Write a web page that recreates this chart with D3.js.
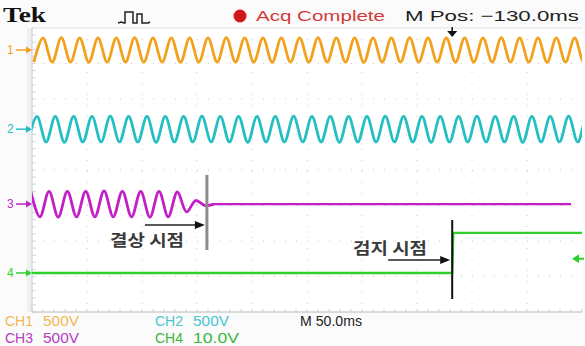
<!DOCTYPE html>
<html><head><meta charset="utf-8">
<script src="https://cdn.jsdelivr.net/npm/d3@7"></script>
<style>body{margin:0;background:#fff}svg{display:block}</style>
</head><body><svg id="c" width="585" height="346"></svg>
<script>
// ---- data ----
const timeDomain = [0, 500];          // ms (50 ms/div x 10)
const divDomain = [-4, 4];            // vertical divisions
const halfPeriod = 8.333;             // ms (60 Hz)
const ch1Start = 1.67, ch2Start = -3.83, ch3Start = -1.17; // time of first extremum (ms)
const ch1Offset = 3.38, ch2Offset = 1.15, ch3Offset = -0.96; // div
const ch1Ext = [-0.34,0.34,-0.34,0.35,-0.34,0.34,-0.35,0.34,-0.34,0.34,-0.34,0.35,-0.34,0.34,-0.34,0.34,-0.35,0.34,-0.34,0.34,-0.34,0.35,-0.34,0.34,-0.34,0.34,-0.35,0.34,-0.34,0.34,-0.34,0.35,-0.34,0.34,-0.34,0.34,-0.35,0.34,-0.34,0.34,-0.34,0.35,-0.34,0.34,-0.34,0.34,-0.35,0.34,-0.34,0.34,-0.34,0.35,-0.34,0.34,-0.34,0.34,-0.35,0.34,-0.34,0.34,-0.34,0.34];
const ch2Ext = [-0.36,0.36,-0.36,0.36,-0.37,0.36,-0.36,0.36,-0.36,0.37,-0.36,0.36,-0.36,0.36,-0.37,0.36,-0.36,0.36,-0.36,0.37,-0.36,0.36,-0.36,0.36,-0.37,0.36,-0.36,0.36,-0.36,0.37,-0.36,0.36,-0.36,0.36,-0.37,0.36,-0.36,0.36,-0.36,0.37,-0.36,0.36,-0.36,0.36,-0.37,0.36,-0.36,0.36,-0.36,0.37,-0.36,0.36,-0.36,0.36,-0.37,0.36,-0.36,0.36,-0.36,0.37,-0.36,0.36,-0.36];
const ch3Ext = [0.36,-0.36,0.36,-0.37,0.36,-0.36,0.36,-0.36,0.37,-0.36,0.36,-0.36,0.36,-0.37,0.36,-0.36,0.34,-0.22,0.1,-0.04,0];
const ch3Flat = [[175, 0], [500, 0]];
const ch4Levels = [-2.9, -1.77];      // div, before / after step
const stepTime = 382;                 // ms, 검지 시점
const openPhaseTime = 159;            // ms, 결상 시점
const labels = {
  title: "Tek", acq: "Acq Complete", mpos: "M Pos: \u2212130.0ms",
  openPhase: "결상 시점", detect: "검지 시점", timebase: "M 50.0ms"
};
const chNames = ["CH1", "CH2", "CH3", "CH4"];
const chScales = ["500V", "500V", "500V", "10.0V"];
const chColors = ["#f3a11c", "#24bfc2", "#c21fc6", "#2fcf2f"];
const chTextColors = ["#f0b850", "#48c6d0", "#b43cc0", "#3eb43e"];

// ---- layout ----
const svg = d3.select("#c");
const L = 32, R = 582, T = 28, B = 312;
const x = d3.scaleLinear().domain(timeDomain).range([L, R]);
const y = d3.scaleLinear().domain(divDomain).range([B, T]);

svg.append("rect").attr("width", 585).attr("height", 346).attr("fill", "#fbfbfb");
svg.append("rect").attr("x", L).attr("y", T).attr("width", R - L).attr("height", B - T).attr("fill", "#fff");
svg.append("rect").attr("x", 27).attr("y", T).attr("width", 5).attr("height", B - T).attr("fill", "#eef0f2");

// graticule
const g = svg.append("g");
g.selectAll(".vg").data(d3.range(50, 500, 50)).join("line")
  .attr("x1", d => x(d)).attr("x2", d => x(d)).attr("y1", T).attr("y2", B)
  .attr("stroke", "#c9c9c9").attr("stroke-width", 1).attr("stroke-dasharray", "1,10");
g.selectAll(".hg").data(d3.range(-3, 4, 1)).join("line")
  .attr("x1", L).attr("x2", R).attr("y1", d => y(d)).attr("y2", d => y(d))
  .attr("stroke", "#c9c9c9").attr("stroke-width", 1).attr("stroke-dasharray", "1,10");
g.selectAll(".lt").data(d3.range(-4, 4.01, 0.2)).join("line")
  .attr("x1", L).attr("x2", L + 4).attr("y1", d => y(d)).attr("y2", d => y(d))
  .attr("stroke", "#d6d6d6");
g.append("line").attr("x1", L).attr("x2", L).attr("y1", T).attr("y2", B).attr("stroke", "#c6d3e0").attr("stroke-width", 1.2);
g.append("line").attr("x1", L).attr("x2", R).attr("y1", B).attr("y2", B).attr("stroke", "#b8b8b8").attr("stroke-width", 1);
g.append("line").attr("x1", L).attr("x2", R).attr("y1", T).attr("y2", T).attr("stroke", "#e2e2e2").attr("stroke-width", 1);
g.selectAll(".bt").data(d3.range(0, 500.1, 10)).join("line")
  .attr("x1", d => x(d)).attr("x2", d => x(d)).attr("y1", B - 3).attr("y2", B)
  .attr("stroke", "#d0d0d0");

svg.append("clipPath").attr("id", "pc").append("rect")
  .attr("x", L).attr("y", T).attr("width", R - L).attr("height", B - T);

const line = d3.line().x(d => x(d[0])).y(d => y(d[1])).curve(d3.curveCatmullRom.alpha(0.5));
const plot = svg.append("g").attr("clip-path", "url(#pc)");

function ext(arr, t0, off) { return arr.map((v, i) => [t0 + i * halfPeriod, off + v]); }

plot.append("path").attr("d", line(ext(ch1Ext, ch1Start, ch1Offset)))
  .attr("fill", "none").attr("stroke", chColors[0]).attr("stroke-width", 2.8);
plot.append("path").attr("d", line(ext(ch2Ext, ch2Start, ch2Offset)))
  .attr("fill", "none").attr("stroke", chColors[1]).attr("stroke-width", 2.8);
plot.append("path").attr("d", line(ext(ch3Ext, ch3Start, ch3Offset)))
  .attr("fill", "none").attr("stroke", chColors[2]).attr("stroke-width", 2.8);
const straight = d3.line().x(d => x(d[0])).y(d => y(d[1]));
plot.append("path").attr("d", straight(ch3Flat.map(d => [d[0] - 10, ch3Offset + d[1]])))
  .attr("fill", "none").attr("stroke", chColors[2]).attr("stroke-width", 2.4);
plot.append("path").attr("d", straight([[0, ch4Levels[0]], [stepTime, ch4Levels[0]], [stepTime + 1, ch4Levels[1]], [500, ch4Levels[1]]]))
  .attr("fill", "none").attr("stroke", chColors[3]).attr("stroke-width", 2.4);

// channel markers
const offsets = [ch1Offset, ch2Offset, ch3Offset, ch4Levels[0]];
offsets.forEach((o, i) => {
  const yy = y(o);
  svg.append("text").attr("x", 7).attr("y", yy + 4).text(String(i + 1))
    .attr("font-family", "Liberation Sans, Arial").attr("font-size", 12).attr("fill", chColors[i]);
  svg.append("line").attr("x1", 16).attr("x2", 27).attr("y1", yy).attr("y2", yy).attr("stroke", chColors[i]).attr("stroke-width", 1.5);
  svg.append("path").attr("d", `M${L},${yy} l-6,-3.5 l0,7 z`).attr("fill", chColors[i]);
});
svg.append("path").attr("d", `M572,${y(-2.5)} l7,-4.5 l0,9 z`).attr("fill", chColors[3]);
svg.append("line").attr("x1", 578).attr("x2", 584).attr("y1", y(-2.5)).attr("y2", y(-2.5)).attr("stroke", chColors[3]).attr("stroke-width", 2);

// annotations
const ann = svg.append("g");
ann.append("line").attr("x1", x(openPhaseTime)).attr("x2", x(openPhaseTime)).attr("y1", 175).attr("y2", 250)
  .attr("stroke", "#8c8c8c").attr("stroke-width", 3);
ann.append("line").attr("x1", x(openPhaseTime) - 62).attr("x2", x(openPhaseTime) - 8).attr("y1", 225).attr("y2", 225)
  .attr("stroke", "#222").attr("stroke-width", 1.5);
ann.append("path").attr("d", `M${x(openPhaseTime) - 2},225 l-10,-4 l0,8 z`).attr("fill", "#111");
ann.append("text").attr("x", 110).attr("y", 246).text(labels.openPhase)
  .attr("font-family", "Noto Sans CJK KR").attr("font-weight", "bold").attr("font-size", 16).attr("fill", "#3a3a3a")
  .attr("textLength", 74).attr("lengthAdjust", "spacingAndGlyphs");

ann.append("line").attr("x1", x(stepTime)).attr("x2", x(stepTime)).attr("y1", 220).attr("y2", 299)
  .attr("stroke", "#111").attr("stroke-width", 2);
ann.append("line").attr("x1", x(stepTime) - 64).attr("x2", x(stepTime) - 8).attr("y1", 260).attr("y2", 260)
  .attr("stroke", "#222").attr("stroke-width", 1.5);
ann.append("path").attr("d", `M${x(stepTime) - 2},260 l-10,-4 l0,8 z`).attr("fill", "#111");
ann.append("text").attr("x", 353).attr("y", 254).text(labels.detect)
  .attr("font-family", "Noto Sans CJK KR").attr("font-weight", "bold").attr("font-size", 16).attr("fill", "#3a3a3a")
  .attr("textLength", 74).attr("lengthAdjust", "spacingAndGlyphs");

// header
svg.append("text").attr("x", 3).attr("y", 22).text(labels.title)
  .attr("font-family", "Liberation Serif").attr("font-weight", "bold").attr("font-size", 21).attr("fill", "#111")
  .attr("textLength", 43).attr("lengthAdjust", "spacingAndGlyphs");
svg.append("path").attr("d", "M118,23 L121,22 L124,23 L125,23 L125,12 L133,12 L133,23 L137,23 L137,14 L142,14 L142,23 L148,23 L150,22")
  .attr("fill", "none").attr("stroke", "#222").attr("stroke-width", 1.5);
svg.append("circle").attr("cx", 240).attr("cy", 16).attr("r", 6.5).attr("fill", "#d01818");
svg.append("text").attr("x", 256).attr("y", 21).text(labels.acq)
  .attr("font-family", "Liberation Sans, Arial").attr("font-size", 15).attr("fill", "#d23a3a")
  .attr("textLength", 129).attr("lengthAdjust", "spacingAndGlyphs");
svg.append("text").attr("x", 405).attr("y", 21).text(labels.mpos)
  .attr("font-family", "Liberation Sans, Arial").attr("font-size", 15).attr("fill", "#222")
  .attr("textLength", 174).attr("lengthAdjust", "spacingAndGlyphs");
svg.append("line").attr("x1", x(stepTime)).attr("x2", x(stepTime)).attr("y1", 27).attr("y2", 33).attr("stroke", "#111").attr("stroke-width", 1.5);
svg.append("path").attr("d", `M${x(stepTime) - 5},31 l10,0 l-5,6 z`).attr("fill", "#111");

// footer
const foot = svg.append("g").attr("font-family", "Liberation Sans, Arial").attr("font-size", 14);
const footPos = [[5, 326], [155, 326], [5, 343], [155, 343]];
chNames.forEach((n, i) => {
  foot.append("text").attr("x", footPos[i][0]).attr("y", footPos[i][1]).text(n).attr("fill", chTextColors[i])
    .attr("textLength", 28).attr("lengthAdjust", "spacingAndGlyphs");
  foot.append("text").attr("x", footPos[i][0] + 38).attr("y", footPos[i][1]).text(chScales[i]).attr("fill", chTextColors[i])
    .attr("textLength", i === 3 ? 46 : 36).attr("lengthAdjust", "spacingAndGlyphs");
});
foot.append("text").attr("x", 300).attr("y", 326).text(labels.timebase).attr("fill", "#222")
  .attr("textLength", 62).attr("lengthAdjust", "spacingAndGlyphs");
</script></body></html>
